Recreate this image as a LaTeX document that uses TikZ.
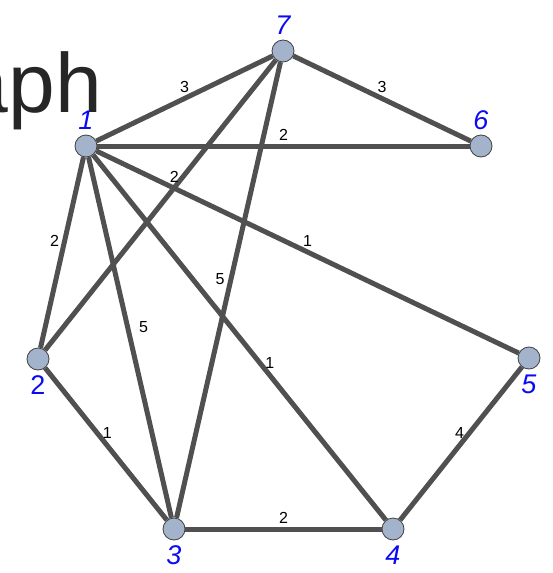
\documentclass[tikz,border=0pt]{standalone}
\usepackage{fontspec}
\setmainfont{Liberation Sans}
\usetikzlibrary{positioning}

\definecolor{vfill}{RGB}{163,179,204}
\definecolor{vline}{RGB}{80,80,80}
\definecolor{vname}{RGB}{10,10,245}

\begin{document}
\begin{tikzpicture}[
    x=1pt, y=-1pt,
    vertex/.style={circle, draw=vline!80!black, line width=0.8pt, fill=vfill, minimum size=22pt, inner sep=0pt},
    vname/.style={text=vname, font=\fontsize{27}{27}\selectfont\itshape, inner sep=1pt},
    edge/.style={draw=vline, line width=5pt},
    weight/.style={font=\fontsize{16}{16}\selectfont, inner sep=3pt}
]
    \useasboundingbox (0,0) rectangle (553,573);
    \clip (0,0) rectangle (553,573);

    \node[anchor=base east, text=black!85, font=\fontsize{84}{84}\selectfont, inner sep=0pt] (title) at (102,112) {Graph};

    \node[vertex, label={[vname, label distance=4pt]above:1}] (v1) at (86,146) {};
    \node[vertex, label={[vname, label distance=4pt, font=\fontsize{27}{27}\selectfont]below:2}] (v2) at (38,359) {};
    \node[vertex, label={[vname, label distance=4pt]below:3}] (v3) at (174,529) {};
    \node[vertex, label={[vname, label distance=4pt]below:4}] (v4) at (393,529) {};
    \node[vertex, label={[vname, label distance=4pt]below:5}] (v5) at (529,358) {};
    \node[vertex, label={[vname, label distance=4pt]above:6}] (v6) at (481,146) {};
    \node[vertex, label={[vname, label distance=4pt]above:7}] (v7) at (283,51) {};

    \draw[edge] (v1) -- node[weight, above] {3} (v7);
    \draw[edge] (v7) -- node[weight, above] {3} (v6);
    \draw[edge] (v1) -- node[weight, above] {2} (v6);
    \draw[edge] (v7) -- node[weight, pos=0.44, above] {2} (v2);
    \draw[edge] (v1) -- node[weight, pos=0.44, left] {2} (v2);
    \draw[edge] (v1) -- node[weight, pos=0.47, right=6pt] {5} (v3);
    \draw[edge] (v7) -- node[weight, pos=0.475, left=1pt] {5} (v3);
    \draw[edge] (v1) -- node[weight, pos=0.57, right] {1} (v4);
    \draw[edge] (v1) -- node[weight, pos=0.5, above] {1} (v5);
    \draw[edge] (v2) -- node[weight, pos=0.43, right] {1} (v3);
    \draw[edge] (v3) -- node[weight, above] {2} (v4);
    \draw[edge] (v4) -- node[weight, pos=0.57, left] {4} (v5);
\end{tikzpicture}
\end{document}
